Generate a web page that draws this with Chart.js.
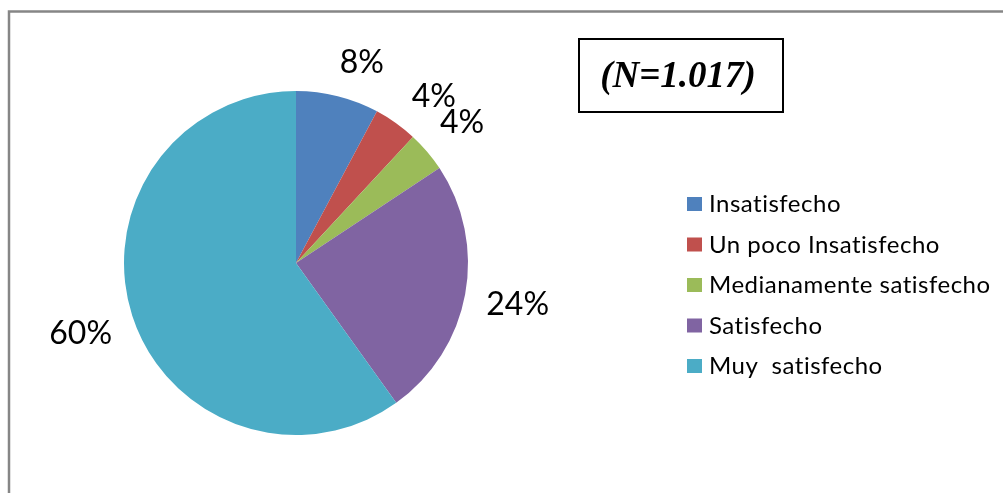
<!DOCTYPE html>
<html>
<head>
<meta charset="utf-8">
<script src="https://cdn.jsdelivr.net/npm/chart.js@4/dist/chart.umd.min.js"></script>
<style>
html,body{margin:0;padding:0;background:#fff;}
#wrap{width:1003px;height:493px;position:relative;}
</style>
</head>
<body>
<div id="wrap"><canvas id="c" width="1003" height="493"></canvas></div>
<script>
const categories = ["Insatisfecho", "Un poco Insatisfecho", "Medianamente satisfecho", "Satisfecho", "Muy  satisfecho"];
const percentValues = [7.8, 4.1, 3.8, 24.4, 59.9];
const sliceColors = ["#4F81BD", "#C0504D", "#9BBB59", "#8064A2", "#4BACC6"];
const sampleNote = "(N=1.017)";

const overlay = {
  id: 'overlay',
  beforeDraw(chart) {
    const ctx = chart.ctx;
    ctx.save();
    ctx.strokeStyle = '#868686';
    ctx.lineWidth = 2.5;
    ctx.beginPath();
    ctx.moveTo(9, 500);
    ctx.lineTo(9, 11.5);
    ctx.lineTo(1010, 11.5);
    ctx.stroke();
    ctx.restore();
  },
  afterDraw(chart) {
    const ctx = chart.ctx;
    ctx.save();
    // percent labels
    const meta = chart.getDatasetMeta(0);
    ctx.font = '32px Lato';
    ctx.fillStyle = '#000';
    ctx.textAlign = 'center';
    ctx.textBaseline = 'middle';
    meta.data.forEach((arc, i) => {
      const p = arc.getProps(['x','y','startAngle','endAngle','outerRadius'], true);
      const mid = (p.startAngle + p.endAngle) / 2 + (i < 2 ? 0.07 : 0);
      const c = Math.cos(mid), s = Math.sin(mid);
      const txt = Math.round(percentValues[i]) + '%';
      const w = ctx.measureText(txt).width;
      const d = p.outerRadius + 20 + (w / 2) * Math.abs(c) + 14 * Math.abs(s);
      ctx.fillText(txt, p.x + d * c, p.y + d * s + 1);
    });
    // legend
    ctx.font = '24px Lato';
    if ('letterSpacing' in ctx) ctx.letterSpacing = '0.5px';
    ctx.textAlign = 'left';
    ctx.textBaseline = 'alphabetic';
    categories.forEach((lab, i) => {
      const base = 212 + 40.5 * i;
      ctx.fillStyle = sliceColors[i];
      ctx.fillRect(687, base - 15, 15, 14);
      ctx.fillStyle = '#000';
      ctx.fillText(lab, 709, base);
    });
    if ('letterSpacing' in ctx) ctx.letterSpacing = '0px';
    // N box
    ctx.strokeStyle = '#000';
    ctx.lineWidth = 2;
    ctx.strokeRect(579, 39, 204, 73);
    ctx.font = 'bold italic 37px "Liberation Serif"';
    ctx.textAlign = 'center';
    ctx.fillText(sampleNote, 678, 87);
    ctx.restore();
  }
};

new Chart(document.getElementById('c'), {
  type: 'pie',
  data: {
    labels: categories,
    datasets: [{
      data: percentValues,
      backgroundColor: sliceColors,
      borderWidth: 0,
      hoverOffset: 0
    }]
  },
  options: {
    responsive: false,
    animation: false,
    events: [],
    layout: { padding: { left: 124, right: 535, top: 91, bottom: 58 } },
    plugins: { legend: { display: false }, tooltip: { enabled: false } }
  },
  plugins: [overlay]
});
</script>
</body>
</html>
